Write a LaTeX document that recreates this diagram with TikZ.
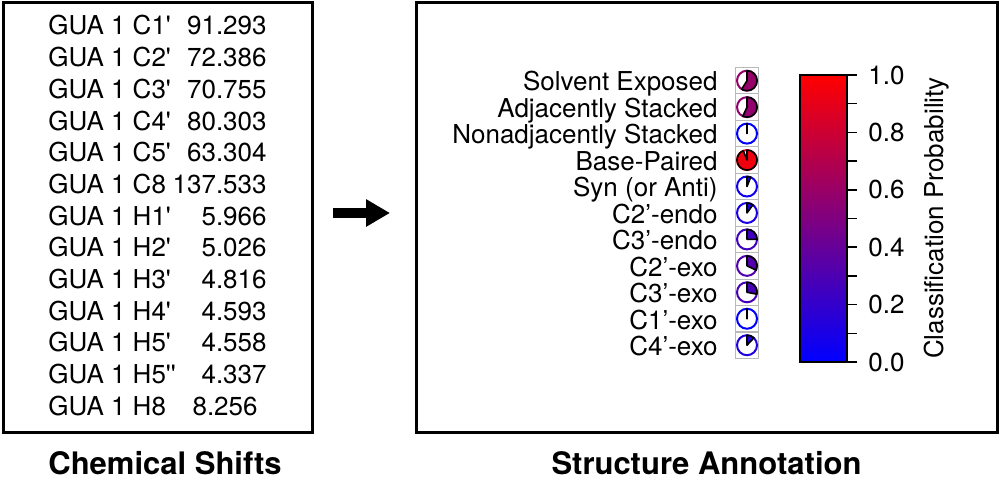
\documentclass[tikz,border=0pt]{standalone}
\usepackage{fontspec}
\setmainfont{TeX Gyre Heros}
\usetikzlibrary{arrows.meta}
\newcommand{\straightq}{\textquotesingle}

\begin{document}
\begin{tikzpicture}[x=0.5pt,y=0.5pt,
    font=\fontsize{13}{15}\selectfont,
    panel/.style={draw,line width=1.5pt,inner sep=0pt},
    caption/.style={font=\fontsize{15.5}{18}\selectfont\bfseries},
    entry/.style={inner sep=0pt},
    bigarrow/.style={line width=5pt,-{Triangle[length=12pt,width=13pt]}},
    cellgrid/.style={draw=gray!55,line width=0.5pt}]
    \useasboundingbox (0,0) rectangle (1000,482);
    % Panels
    \node[panel,minimum width=154.5pt,minimum height=214.5pt] (shifts) at (157.5,264.5) {};
    \node[panel,minimum width=290.5pt,minimum height=214.5pt] (annot) at (706.5,264.5) {};
    \node[caption] (shiftscap) at (165,19) {Chemical Shifts};
    \node[caption] (annotcap) at (706.5,19) {Structure Annotation};
    % Chemical shift table
    \foreach \atm/\val/\xe [count=\i from 0] in {C1\straightq/91.293/267, C2\straightq/72.386/267,
        C3\straightq/70.755/267, C4\straightq/80.303/267, C5\straightq/63.304/267, C8/137.533/267,
        H1\straightq/5.966/267, H2\straightq/5.026/267, H3\straightq/4.816/267, H4\straightq/4.593/267,
        H5\straightq/4.558/267, H5\straightq\straightq/4.337/267, H8/8.256/258}{
      \node[entry,anchor=base west] (atm\i) at (48,447-31.67*\i) {GUA 1 \atm};
      \node[entry,anchor=base east] (val\i) at (\xe,447-31.67*\i) {\val};
    }
    % Arrow
    \coordinate (arrS) at (333,269);
    \coordinate (arrE) at (390,269);
    \draw[bigarrow] (arrS) -- (arrE);
    % Categories and pies
    \foreach \cat/\p [count=\i from 0] in {Solvent Exposed/0.59, Adjacently Stacked/0.57,
        Nonadjacently Stacked/0, Base-Paired/0.94, Syn (or Anti)/0.06, C2'-endo/0.10,
        C3'-endo/0.25, C2'-exo/0.32, C3'-exo/0.28, C1'-exo/0, C4'-exo/0.12}{
      \pgfmathtruncatemacro{\pc}{round(100*\p)}
      \colorlet{pcol}{red!\pc!blue}
      \coordinate (pie\i) at (747,401.3-26.45*\i);
      \node[entry,anchor=base east] (cat\i) at (718,391-26.45*\i) {\cat};
      \draw[cellgrid] ([shift={(-11.5,-13.2)}]pie\i) rectangle ([shift={(11.5,13.2)}]pie\i);
      \draw[pcol,line width=1pt,fill=white] (pie\i) circle (10);
      \filldraw[fill=pcol,draw=black,line width=0.8pt,line join=round]
        (pie\i) -- ++(0,10) arc[start angle=90,end angle=90-360*\p,radius=10] -- cycle;
    }
    % Colour bar
    \shade[bottom color=blue,top color=red] (800,120) rectangle (847,407);
    \draw[line width=0.75pt] (800,120) rectangle (847,407);
    \foreach \k in {0,...,10}
      \draw[line width=0.75pt] (847,120+28.7*\k) -- ++(10,0);
    \foreach \v [count=\k from 0] in {0.0,0.2,0.4,0.6,0.8,1.0}
      \node[entry,anchor=west] (tick\k) at (868,120+57.4*\k) {\v};
    \node[rotate=90] (cbarlab) at (937,264) {Classification Probability};
\end{tikzpicture}
\end{document}
